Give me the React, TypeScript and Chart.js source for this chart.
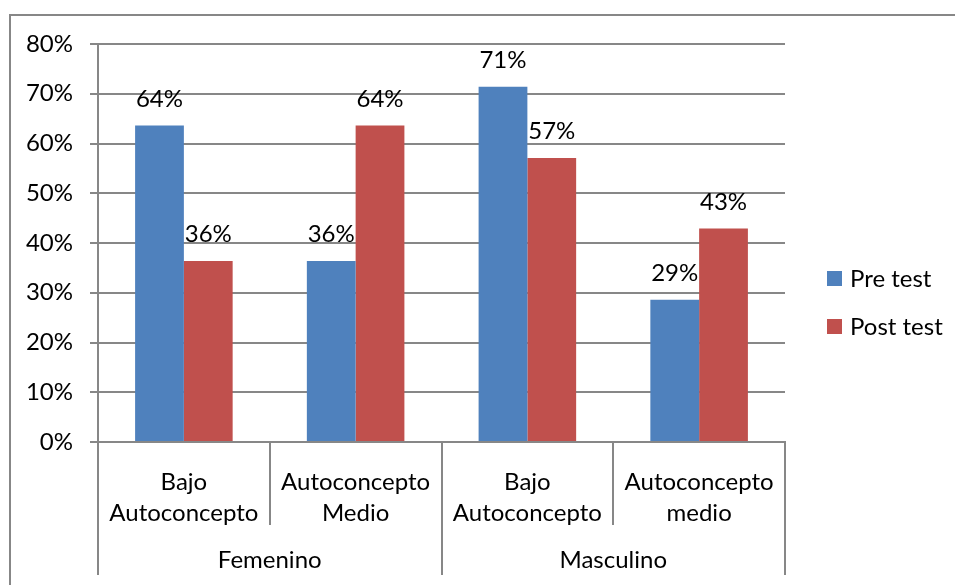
import React, { useEffect, useRef } from "react";
import { Chart, registerables } from "chart.js";

Chart.register(...registerables);

const categories: string[][] = [
  ["Bajo", "Autoconcepto"],
  ["Autoconcepto", "Medio"],
  ["Bajo", "Autoconcepto"],
  ["Autoconcepto", "medio"],
];
const groups = ["Femenino", "Masculino"];
const groupSizes = [2, 2];
const seriesNames = ["Pre test", "Post test"];
const preTest = [63.6, 36.4, 71.4, 28.6];
const postTest = [36.4, 63.6, 57.1, 42.9];
const yMax = 80;
const yStep = 10;

const FONT = "Lato";
const FS = 24;
const GRAY = "#878787";
const COLORS = ["#4F81BD", "#C0504D"];

const decorPlugin = {
  id: "decor",
  beforeDraw(chart: any) {
    const ctx = chart.ctx;
    ctx.save();
    ctx.fillStyle = "#ffffff";
    ctx.fillRect(0, 0, chart.width, chart.height);
    ctx.strokeStyle = GRAY;
    ctx.lineWidth = 2;
    ctx.beginPath();
    ctx.moveTo(10, chart.height);
    ctx.lineTo(10, 15);
    ctx.lineTo(chart.width, 15);
    ctx.stroke();
    ctx.restore();
  },
  afterDraw(chart: any) {
    const ctx = chart.ctx;
    const x = chart.scales.x;
    const area = chart.chartArea;
    const n = categories.length;
    const step = x.getPixelForValue(1) - x.getPixelForValue(0);
    const edge = (i: number) => {
      if (i <= 0) return x.getPixelForValue(0) - step / 2;
      if (i >= n) return x.getPixelForValue(n - 1) + step / 2;
      return (x.getPixelForValue(i - 1) + x.getPixelForValue(i)) / 2;
    };
    ctx.save();
    ctx.strokeStyle = GRAY;
    ctx.lineWidth = 2;
    const groupEdges: number[] = [0];
    let acc = 0;
    groupSizes.forEach((s) => {
      acc += s;
      groupEdges.push(acc);
    });
    ctx.beginPath();
    for (let i = 0; i <= n; i++) {
      const px = Math.round(edge(i));
      const long = groupEdges.includes(i);
      ctx.moveTo(px, area.bottom);
      ctx.lineTo(px, long ? area.bottom + 133 : area.bottom + 83);
    }
    ctx.stroke();
    ctx.fillStyle = "#000";
    ctx.font = `${FS}px ${FONT}`;
    ctx.textAlign = "center";
    ctx.textBaseline = "alphabetic";
    groups.forEach((g, gi) => {
      const cx = (edge(groupEdges[gi]) + edge(groupEdges[gi + 1])) / 2;
      ctx.fillText(g, cx, area.bottom + 126);
    });
    chart.data.datasets.forEach((ds: any, di: number) => {
      const meta = chart.getDatasetMeta(di);
      meta.data.forEach((bar: any, i: number) => {
        ctx.fillText(Math.round(ds.data[i]) + "%", bar.x, bar.y - 19);
      });
    });
    ctx.textAlign = "left";
    ctx.textBaseline = "middle";
    chart.data.datasets.forEach((ds: any, di: number) => {
      const cy = 279 + di * 48;
      ctx.fillStyle = ds.backgroundColor;
      ctx.fillRect(827, cy - 8, 15, 15);
      ctx.fillStyle = "#000";
      ctx.fillText(ds.label, 850, cy);
    });
    ctx.restore();
  },
};

export default function App() {
  const ref = useRef<HTMLCanvasElement>(null);
  useEffect(() => {
    document.body.style.margin = "0";
    const chart = new Chart(ref.current as HTMLCanvasElement, {
      type: "bar",
      data: {
        labels: categories as any,
        datasets: [
          { label: seriesNames[0], data: preTest, backgroundColor: COLORS[0] },
          { label: seriesNames[1], data: postTest, backgroundColor: COLORS[1] },
        ],
      },
      options: {
        animation: false,
        responsive: false,
        devicePixelRatio: 1,
        layout: { padding: { top: 44, right: 170, left: 0, bottom: 0 } },
        datasets: { bar: { categoryPercentage: 0.568, barPercentage: 1 } },
        plugins: { legend: { display: false }, tooltip: { enabled: false } },
        scales: {
          x: {
            grid: { display: false },
            border: { color: GRAY, width: 2 },
            ticks: {
              color: "#000",
              padding: 17,
              font: { family: FONT, size: FS, lineHeight: 1.29 },
            },
            afterFit: (s: any) => {
              s.height = 143;
            },
          },
          y: {
            min: 0,
            max: yMax,
            grid: { color: GRAY, lineWidth: 2, tickLength: 8 },
            border: { color: GRAY, width: 2 },
            ticks: {
              stepSize: yStep,
              color: "#000",
              padding: 17,
              font: { family: FONT, size: FS },
              callback: (v: any) => v + "%",
            },
            afterFit: (s: any) => {
              s.width = 98;
            },
          },
        },
      },
      plugins: [decorPlugin],
    });
    return () => chart.destroy();
  }, []);
  return (
    <div style={{ position: "fixed", left: 0, top: 0, width: 955, height: 585, background: "#fff" }}>
      <canvas ref={ref} width={955} height={585} />
    </div>
  );
}
